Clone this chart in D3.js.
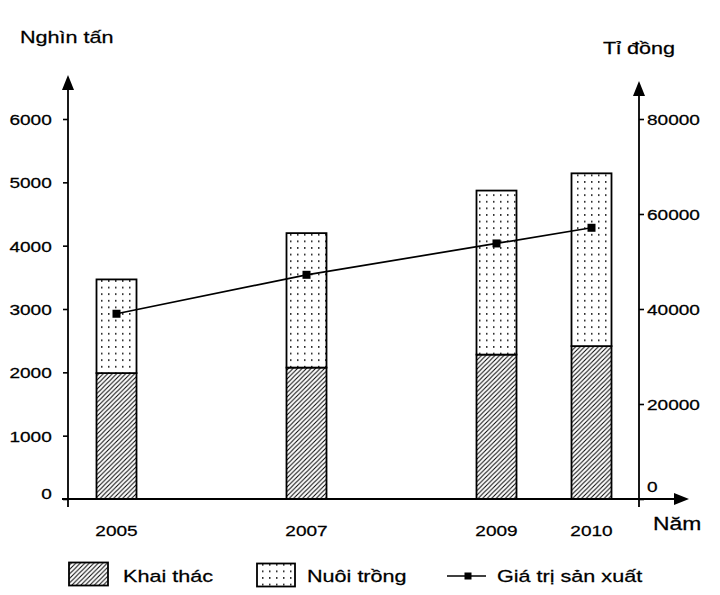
<!DOCTYPE html>
<html>
<head>
<meta charset="utf-8">
<script src="https://cdn.jsdelivr.net/npm/d3@7"></script>
<style>
html,body{margin:0;padding:0;background:#fff;}
svg{display:block;}
text{font-family:"Liberation Sans",Arial,sans-serif;fill:#000;stroke:#000;stroke-width:0.25px;}
</style>
</head>
<body>
<svg id="chart" width="720" height="595"></svg>
<script>
// ---- data ----
const years = [2005, 2007, 2009, 2010];
const khaiThac = [1988, 2075, 2280, 2414];      // nghìn tấn
const nuoiTrong = [1479, 2123, 2590, 2728];     // nghìn tấn
const giaTri = [39000, 47200, 53800, 57100];    // tỉ đồng
const leftTicks = [0, 1000, 2000, 3000, 4000, 5000, 6000];
const rightTicks = [0, 20000, 40000, 60000, 80000];
const seriesNames = ["Khai thác", "Nuôi trồng", "Giá trị sản xuất"];
const leftTitle = "Nghìn tấn";
const rightTitle = "Tỉ đồng";
const xTitle = "Năm";

// ---- layout ----
const SX = 1.27; // horizontal text stretch of the reference
const svg = d3.select("#chart");
const yBase = 499, yTop = 119;
const axL = 68, axR = 639;
const x = d3.scaleLinear().domain([2005, 2010]).range([116.5, 591.5]);
const yL = d3.scaleLinear().domain([0, 6000]).range([yBase, yTop]);
const yR = d3.scaleLinear().domain([0, 80000]).range([yBase, yTop]);
const barW = 40;

const defs = svg.append("defs");
const P = 4.5;
const hatch = defs.append("pattern").attr("id", "hatch")
  .attr("patternUnits", "userSpaceOnUse").attr("width", P).attr("height", P);
hatch.append("rect").attr("width", P).attr("height", P).attr("fill", "#fff");
hatch.append("path").attr("d", `M-1,1 L1,-1 M0,${P} L${P},0 M${P - 1},${P + 1} L${P + 1},${P - 1}`)
  .attr("stroke", "#000").attr("stroke-width", 1);
const dots = defs.append("pattern").attr("id", "dots")
  .attr("patternUnits", "userSpaceOnUse").attr("width", 7).attr("height", 6.6);
dots.append("rect").attr("width", 7).attr("height", 6.6).attr("fill", "#fff");
dots.append("rect").attr("x", 3).attr("y", 3).attr("width", 1.5).attr("height", 1.5).attr("fill", "#000");

function txt(xp, yp, s, size, anchor) {
  svg.append("g").attr("transform", `translate(${xp},${yp}) scale(${SX},1)`)
    .append("text").attr("font-size", size).attr("text-anchor", anchor || "start").text(s);
}

// ---- bars ----
const data = years.map((yr, i) => ({yr, k: khaiThac[i], n: nuoiTrong[i], g: giaTri[i]}));
const bars = svg.append("g");
bars.selectAll(".bk").data(data).join("rect")
  .attr("x", d => x(d.yr) - barW / 2).attr("width", barW)
  .attr("y", d => yL(d.k)).attr("height", d => yL(0) - yL(d.k))
  .attr("fill", "url(#hatch)").attr("stroke", "#000").attr("stroke-width", 1.8);
bars.selectAll(".bn").data(data).join("rect")
  .attr("x", d => x(d.yr) - barW / 2).attr("width", barW)
  .attr("y", d => yL(d.k + d.n)).attr("height", d => yL(d.k) - yL(d.k + d.n))
  .attr("fill", "url(#dots)").attr("stroke", "#000").attr("stroke-width", 1.8);

// ---- line ----
const line = d3.line().x(d => x(d.yr)).y(d => yR(d.g));
svg.append("path").datum(data).attr("d", line)
  .attr("fill", "none").attr("stroke", "#000").attr("stroke-width", 1.7);
svg.selectAll(".mk").data(data).join("rect")
  .attr("x", d => x(d.yr) - 4).attr("y", d => yR(d.g) - 4)
  .attr("width", 8).attr("height", 8).attr("fill", "#000");

// ---- axes ----
const gL = svg.append("g").attr("transform", `translate(${axL},0)`)
  .call(d3.axisLeft(yL).tickValues(leftTicks).tickSize(5).tickSizeOuter(0).tickFormat(d3.format("d")));
gL.select(".domain").remove();
gL.selectAll(".tick line").attr("stroke", "#000").attr("stroke-width", 1.6);
gL.selectAll(".tick text").attr("font-size", 15).attr("font-family", null)
  .attr("x", -12.8).attr("dy", "0.36em")
  .attr("transform", d => `translate(0,${d === 0 ? -6 : 0}) scale(${SX},1)`);

const gR = svg.append("g").attr("transform", `translate(${axR},0)`)
  .call(d3.axisRight(yR).tickValues(rightTicks).tickSize(5).tickSizeOuter(0).tickFormat(d3.format("d")));
gR.select(".domain").remove();
gR.selectAll(".tick line").attr("stroke", "#000").attr("stroke-width", 1.6);
gR.selectAll(".tick text").attr("font-size", 15).attr("font-family", null)
  .attr("x", 6.3).attr("dy", "0.36em")
  .attr("transform", d => `translate(0,${d === 0 ? -13 : 0}) scale(${SX},1)`);

// axis lines with arrows
const ax = svg.append("g").attr("stroke", "#000").attr("stroke-width", 1.8).attr("fill", "none");
ax.append("line").attr("x1", axL).attr("x2", axL).attr("y1", 88).attr("y2", 507);
ax.append("line").attr("x1", axR).attr("x2", axR).attr("y1", 93).attr("y2", 507);
ax.append("line").attr("x1", 62).attr("x2", 676).attr("y1", yBase).attr("y2", yBase);
const arr = svg.append("g").attr("fill", "#000");
arr.append("path").attr("d", `M${axL},75 L${axL - 6},90 L${axL + 6},90 Z`);
arr.append("path").attr("d", `M${axR},81 L${axR - 6},96 L${axR + 6},96 Z`);
arr.append("path").attr("d", `M689,${yBase} L674,${yBase - 6} L674,${yBase + 6} Z`);

// x labels
years.forEach(yr => txt(x(yr), 536, String(yr), 15, "middle"));
txt(653, 530, xTitle, 18, "start");
txt(20, 43, leftTitle, 17, "start");
txt(603, 54, rightTitle, 17, "start");

// ---- legend ----
const lg = svg.append("g");
lg.append("rect").attr("x", 69).attr("y", 562.5).attr("width", 39).attr("height", 23)
  .attr("fill", "url(#hatch)").attr("stroke", "#000").attr("stroke-width", 1.8);
txt(123, 582, seriesNames[0], 17, "start");
lg.append("rect").attr("x", 257).attr("y", 563.5).attr("width", 38).attr("height", 23)
  .attr("fill", "url(#dots)").attr("stroke", "#000").attr("stroke-width", 1.8);
txt(307, 582, seriesNames[1], 17, "start");
lg.append("line").attr("x1", 447).attr("x2", 486).attr("y1", 576).attr("y2", 576)
  .attr("stroke", "#000").attr("stroke-width", 1.7);
lg.append("rect").attr("x", 464.5).attr("y", 572.5).attr("width", 7).attr("height", 7).attr("fill", "#000");
txt(497, 582, seriesNames[2], 17, "start");
</script>
</body>
</html>
